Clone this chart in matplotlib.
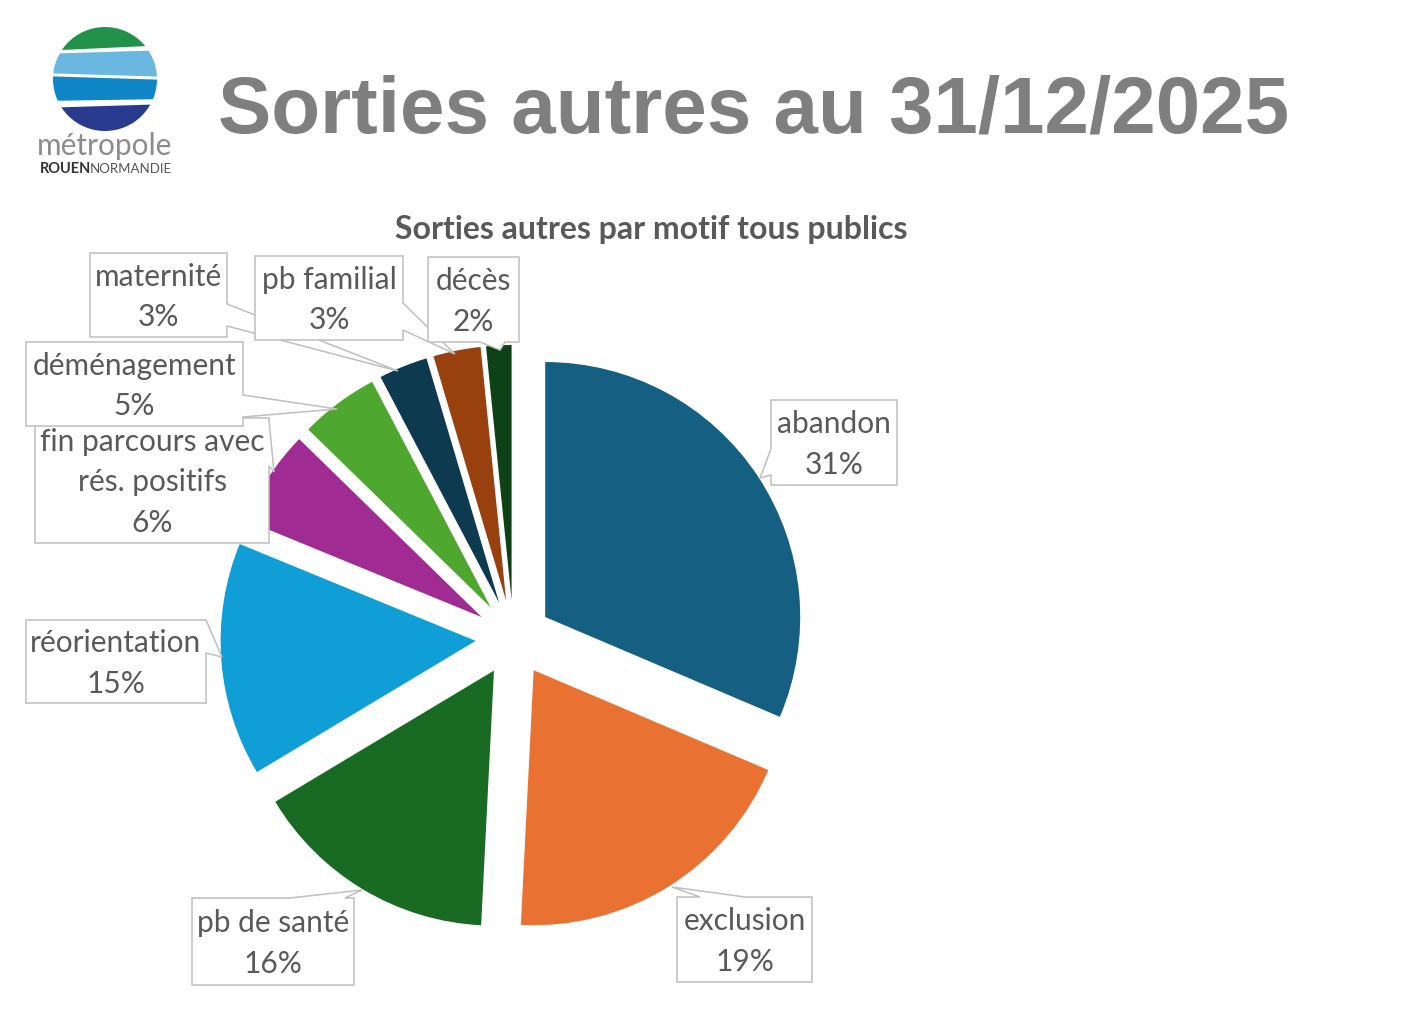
import numpy as np
import matplotlib
matplotlib.use("Agg")
import matplotlib.pyplot as plt
from matplotlib.patches import Polygon, Circle

W, H = 1406, 1027

# data (shares, labels show rounded values)
motifs = ["abandon", "exclusion", "pb de santé", "réorientation",
          "fin parcours avec\nrés. positifs", "déménagement",
          "maternité", "pb familial", "décès"]
parts = [31.4, 19.4, 15.6, 14.8, 6.1, 5.0, 3.1, 3.0, 1.6]
couleurs = ["#156082", "#E97132", "#196B24", "#0F9ED5", "#A02B93",
            "#4EA72E", "#0D3A4F", "#99400F", "#0F4116"]

# label boxes in image pixels: (x0, y0, x1, y1), side of the pointer, base of pointer, tip
boites = [
    ((771, 400, 897, 485), "left", (449, 475), (760, 478)),
    ((677, 897, 812, 982), "top", (700, 745), (672, 887)),
    ((192, 898, 354, 985), "top", (290, 345), (362, 890)),
    ((26, 620, 206, 703), "right", (620, 653), (222, 657)),
    ((35, 418, 269, 543), "right", (420, 466), (274, 472)),
    ((26, 342, 243, 426), "right", (395, 417), (337, 409)),
    ((90, 253, 227, 337), "right", (304, 326), (398, 371)),
    ((255, 256, 403, 340), "right", (303, 330), (455, 354)),
    ((428, 257, 519, 342), "bottom", (480, 505), (500, 350)),
]


def Y(y):
    return H - y


def callout(ax, box, side, base, tip, z):
    x0, y0, x1, y1 = box
    a, b = base
    pts = [(x0, y0)]
    if side == "top":
        pts += [(a, y0), tip, (b, y0)]
    pts.append((x1, y0))
    if side == "right":
        pts += [(x1, a), tip, (x1, b)]
    pts.append((x1, y1))
    if side == "bottom":
        pts += [(b, y1), tip, (a, y1)]
    pts.append((x0, y1))
    if side == "left":
        pts += [(x0, b), tip, (x0, a)]
    pts = [(px, Y(py)) for px, py in pts]
    ax.add_patch(Polygon(pts, closed=True, facecolor="white",
                         edgecolor="#BFBFBF", lw=1.1, zorder=z))


fig = plt.figure(figsize=(W / 100, H / 100), dpi=100)
ax = fig.add_axes([0, 0, 1, 1])

# pie (explode is in data units = pixels here)
ax.pie(parts, colors=couleurs, startangle=90, counterclock=False,
       explode=[38] * len(parts), radius=255, center=(513.5, Y(638)),
       wedgeprops=dict(linewidth=0), frame=True)
ax.set_xlim(0, W)
ax.set_ylim(0, H)
ax.set_aspect("equal")
ax.axis("off")

# labels
for i, (nom, p, (box, side, base, tip)) in enumerate(zip(motifs, parts, boites)):
    callout(ax, box, side, base, tip, 5 + i)
    cx = (box[0] + box[2]) / 2
    cy = (box[1] + box[3]) / 2 + 2
    ax.text(cx, Y(cy), f"{nom}\n{round(p)}%", ha="center", va="center",
            fontsize=21.5, family="Lato", color="#595959",
            linespacing=1.55, zorder=5 + i)

# titles
ax.text(218, Y(133), "Sorties autres au 31/12/2025", ha="left",
        va="baseline", fontsize=57.5, fontweight="bold",
        family="Liberation Sans", color="#7F7F7F")
ax.text(651, Y(229), "Sorties autres par motif tous publics", ha="center",
        va="center", fontsize=23, fontweight="bold", family="Lato",
        color="#595959")

# logo
cercle = Circle((105, Y(79)), 52, transform=ax.transData)
bandes = [
    ([(40, 15), (170, 15), (170, 45), (40, 51)], "#22924A"),
    ([(40, 54), (170, 50), (170, 77), (40, 73)], "#6AB8E2"),
    ([(40, 76), (170, 80), (170, 99), (40, 101)], "#0F86C6"),
    ([(40, 108), (170, 104), (170, 140), (40, 140)], "#283B8E"),
]
for pts, c in bandes:
    pg = Polygon([(px, Y(py)) for px, py in pts], closed=True,
                 facecolor=c, edgecolor="none", zorder=3)
    ax.add_patch(pg)
    pg.set_clip_path(cercle)
ax.text(105, Y(155), "métropole", ha="center", va="baseline",
        fontsize=21.5, family="Lato", color="#8C8C8C")
ax.text(40, Y(173), "ROUEN", ha="left", va="baseline", fontsize=10.5,
        fontweight="bold", family="Lato", color="#333333")
ax.text(172, Y(173), "NORMANDIE", ha="right", va="baseline", fontsize=9.5,
        family="Lato", color="#555555")

fig.savefig("out.png", dpi=100, facecolor="white")
